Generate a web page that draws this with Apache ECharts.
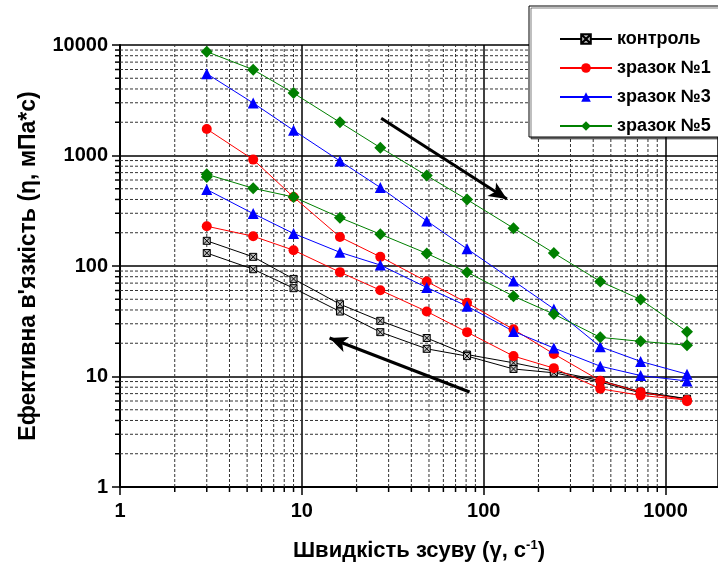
<!DOCTYPE html>
<html>
<head>
<meta charset="utf-8">
<script src="https://cdn.jsdelivr.net/npm/echarts@6/dist/echarts.min.js"></script>
<style>
  html, body { margin: 0; padding: 0; background: #fff; }
  #chart { width: 718px; height: 572px; }
</style>
</head>
<body>
<div id="chart"></div>
<script>
// shear rates (1/s)
const shearRate = [3, 5.4, 9, 16.2, 27, 48.6, 81, 145.8, 243, 437.4, 729, 1312];

// viscosity, up sweep and down sweep (same order as shearRate)
const controlUp = [169, 121, 76.4, 45.1, 31.9, 22.3, 15.8, 13.3, 11.2, 9.2, 7.3, 6.3];
const controlDown = [131, 93.5, 63, 38.7, 25.2, 17.8, 15.3, 11.7, 10.8, 8.9, 7.1, 6.1];
const sample1Up = [1737, 918, 421, 183, 121, 72.5, 46.4, 26.7, 16.0, 9.15, 7.22, 6.12];
const sample1Down = [229, 186, 139, 88, 60.4, 38.8, 25.2, 15.3, 11.9, 7.74, 6.75, 5.96];
const sample3Up = [5500, 2985, 1690, 892, 513, 256, 143, 73.3, 40.9, 18.6, 13.7, 10.5];
const sample3Down = [492, 298, 197, 133, 102, 63.9, 43.3, 25.6, 18.1, 12.4, 10.2, 9.1];
const sample5Up = [8700, 5980, 3670, 1995, 1178, 658, 399, 220, 131, 72.4, 49.8, 25.4];
const sample5Down = [676, 505, 421, 274, 194, 130, 88, 53.3, 36.7, 22.6, 20.8, 19.2];
const sample5DownExtra = [[3, 639]];

const seriesNames = ['контроль', 'зразок №1', 'зразок №3', 'зразок №5'];
const xTickLabels = ['1', '10', '100', '1000'];
const yTickLabels = ['1', '10', '100', '1000', '10000'];

// arrows (data coords)
const arrowDown = [[27.3, 2172], [134, 404]];
const arrowBack = [[83.6, 7.24], [14.2, 22.3]];

const xMin = 1, xMax = 1942, yMin = 1, yMax = 10000;

// minor grid positions 2..9 in each decade
const xMinor = [], yMinor = [];
for (let d = 1; d < 10000; d *= 10) {
  for (let k = 2; k <= 9; k++) {
    if (d * k < xMax) xMinor.push(d * k);
    yMinor.push(d * k);
  }
}

function loop(up, down, extra) {
  const pts = shearRate.map((x, i) => [x, up[i]]);
  for (let i = shearRate.length - 1; i >= 0; i--) pts.push([shearRate[i], down[i]]);
  return extra ? pts.concat(extra) : pts;
}

function minorGrid(axis) {
  return {
    type: 'custom',
    silent: true,
    z: 1,
    data: axis === 'x' ? xMinor.map(v => [v, yMin]) : yMinor.map(v => [xMin, v]),
    renderItem: function (params, api) {
      let a, b, t;
      if (axis === 'x') {
        const v = api.value(0);
        a = api.coord([v, yMin]); b = api.coord([v, yMax]);
        t = [a[0], a[1], a[0], a[1] + 5];
      } else {
        const v = api.value(1);
        a = api.coord([xMin, v]); b = api.coord([xMax, v]);
        t = [a[0] - 5, a[1], a[0], a[1]];
      }
      return {
        type: 'group',
        children: [
          { type: 'line', shape: { x1: a[0], y1: a[1], x2: b[0], y2: b[1] },
            style: { stroke: '#333', lineWidth: 1, lineDash: [3, 2] } },
          { type: 'line', shape: { x1: t[0], y1: t[1], x2: t[2], y2: t[3] },
            style: { stroke: '#000', lineWidth: 1.5 } }
        ]
      };
    }
  };
}

const font = 'Arial, "Liberation Sans", sans-serif';
const boxX = 'path://M0,0 L10,0 L10,10 L0,10 Z M0,0 L10,10 M10,0 L0,10';

function lineSeries(name, color, symbol, size, data, extraStyle) {
  return {
    name: name,
    type: 'line',
    z: 5,
    data: data,
    symbol: symbol,
    symbolSize: size,
    showAllSymbol: true,
    lineStyle: { color: color, width: 1 },
    itemStyle: Object.assign({ color: color }, extraStyle || {}),
    emphasis: { disabled: true }
  };
}

const chart = echarts.init(document.getElementById('chart'));

chart.setOption({
  animation: false,
  backgroundColor: '#fff',
  grid: { left: 120, top: 45, width: 598, height: 442, outerBoundsMode: 'none', containLabel: false },
  legend: {
    data: seriesNames,
    orient: 'vertical',
    left: 529,
    top: 6,
    width: 200,
    padding: [24, 30, 2, 30],
    itemWidth: 52,
    itemHeight: 12,
    itemGap: 11,
    backgroundColor: '#fff',
    borderColor: '#000',
    borderWidth: 1,
    shadowColor: 'rgba(0,0,0,0.5)',
    shadowOffsetX: 2,
    shadowOffsetY: 2,
    textStyle: { fontFamily: font, fontWeight: 'bold', fontSize: 18, color: '#000' }
  },
  xAxis: {
    type: 'log',
    min: xMin,
    max: xMax,
    name: '{t|Швидкість зсуву (γ, с}{s|-1}{t|)}',
    nameLocation: 'middle',
    nameGap: 52,
    nameTextStyle: {
      rich: {
        t: { fontFamily: font, fontWeight: 'bold', fontSize: 22, color: '#000' },
        s: { fontFamily: font, fontWeight: 'bold', fontSize: 13, color: '#000', verticalAlign: 'top', padding: [0, 0, 11, 0] }
      }
    },
    axisLine: { lineStyle: { color: '#000', width: 2 } },
    axisTick: { inside: false, length: 8, lineStyle: { color: '#000', width: 1.5 } },
    axisLabel: {
      margin: 14,
      showMaxLabel: false,
      fontFamily: font, fontWeight: 'bold', fontSize: 20, color: '#000',
      formatter: v => xTickLabels[Math.round(Math.log10(v))]
    },
    splitLine: { show: true, lineStyle: { color: '#000', width: 1.5 } }
  },
  yAxis: {
    type: 'log',
    min: yMin,
    max: yMax,
    name: "Ефективна в'язкість (η, мПа*с)",
    nameLocation: 'middle',
    nameGap: 80,
    nameTextStyle: { fontFamily: font, fontWeight: 'bold', fontSize: 23, color: '#000' },
    axisLine: { lineStyle: { color: '#000', width: 2 } },
    axisTick: { inside: false, length: 8, lineStyle: { color: '#000', width: 1.5 } },
    axisLabel: {
      margin: 12,
      fontFamily: font, fontWeight: 'bold', fontSize: 20, color: '#000',
      formatter: v => yTickLabels[Math.round(Math.log10(v))]
    },
    splitLine: { show: true, lineStyle: { color: '#000', width: 1.5 } }
  },
  series: [
    minorGrid('x'),
    minorGrid('y'),
    lineSeries(seriesNames[0], '#000', boxX, 7, loop(controlUp, controlDown),
      { color: '#bbb', borderColor: '#000', borderWidth: 1 }),
    lineSeries(seriesNames[1], '#ff0000', 'circle', 10, loop(sample1Up, sample1Down)),
    lineSeries(seriesNames[2], '#0000ff', 'triangle', 11, loop(sample3Up, sample3Down)),
    lineSeries(seriesNames[3], '#008000', 'diamond', 12, loop(sample5Up, sample5Down, sample5DownExtra)),
    {
      type: 'line',
      data: [],
      silent: true,
      z: 6,
      markLine: {
        silent: true,
        symbol: ['none', 'arrow'],
        symbolSize: [12, 18],
        label: { show: false },
        lineStyle: { color: '#000', width: 3, type: 'solid' },
        data: [
          [{ coord: arrowDown[0] }, { coord: arrowDown[1] }],
          [{ coord: arrowBack[0] }, { coord: arrowBack[1] }]
        ]
      }
    }
  ]
});
</script>
</body>
</html>
